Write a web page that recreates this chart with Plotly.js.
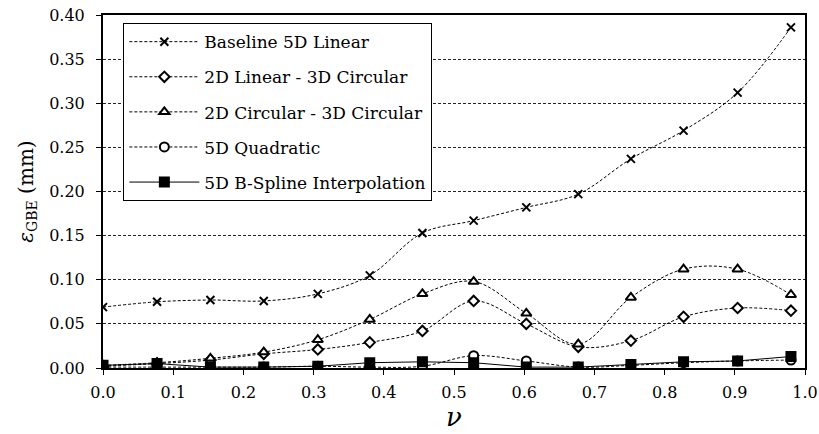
<!DOCTYPE html>
<html>
<head>
<meta charset="utf-8">
<script src="https://cdn.plot.ly/plotly-3.0.1.min.js"></script>
<style>html,body{margin:0;padding:0;background:#fff;}#chart{width:819px;height:434px;}</style>
</head>
<body>
<div id="chart"></div>
<script>
const nu = [0, 0.077, 0.153, 0.229, 0.306, 0.38, 0.455, 0.528, 0.603, 0.677, 0.752, 0.827, 0.904, 0.98];
const baseline5DLinear = [0.069, 0.075, 0.077, 0.076, 0.084, 0.105, 0.153, 0.167, 0.182, 0.197, 0.237, 0.269, 0.312, 0.386];
const linear2DCircular3D = [0.002, 0.005, 0.009, 0.016, 0.021, 0.029, 0.042, 0.076, 0.050, 0.024, 0.031, 0.058, 0.068, 0.065];
const circular2DCircular3D = [0.003, 0.006, 0.011, 0.018, 0.032, 0.055, 0.084, 0.098, 0.062, 0.027, 0.080, 0.112, 0.112, 0.083];
const quadratic5D = [0.001, 0.001, 0.001, 0.001, 0.002, 0.001, 0.002, 0.014, 0.008, 0.001, 0.003, 0.006, 0.008, 0.009];
const bspline5D = [0.003, 0.005, 0.001, 0.001, 0.002, 0.006, 0.007, 0.006, 0.001, 0.001, 0.004, 0.007, 0.008, 0.013];

const names = ['Baseline 5D Linear', '2D Linear - 3D Circular', '2D Circular - 3D Circular', '5D Quadratic', '5D B-Spline Interpolation'];
const series = [baseline5DLinear, linear2DCircular3D, circular2DCircular3D, quadratic5D, bspline5D];
const symbols = ['x-thin-open', 'diamond', 'triangle-up', 'circle', 'square'];
const sizes = [8, 8, 9, 9, 9];
const fills = ['#000', '#fff', '#fff', '#fff', '#000'];
const dashes = ['3px,2px', '3px,2px', '3px,2px', '3px,2px', 'solid'];

const traces = series.map((ys, i) => ({
  x: nu, y: ys, name: names[i], type: 'scatter', mode: 'lines+markers',
  legendgroup: 'g' + i,
  line: {color: '#000', width: 1, dash: dashes[i], shape: i === 4 ? 'linear' : 'spline', smoothing: 1},
  marker: {symbol: symbols[i], size: sizes[i], color: fills[i], line: {color: '#000', width: 2}}
}));

const layout = {
  width: 819, height: 434,
  margin: {l: 103, r: 14, t: 15, b: 66},
  paper_bgcolor: '#fff', plot_bgcolor: '#fff',
  font: {family: 'DejaVu Serif, serif', size: 16, color: '#000'},
  showlegend: true,
  legend: {x: 0.029, y: 0.977, xanchor: 'left', yanchor: 'top', bgcolor: '#fff', bordercolor: '#000', borderwidth: 1,
    font: {family: 'DejaVu Serif, serif', size: 17}, traceorder: 'grouped', tracegroupgap: 10, itemwidth: 70},
  xaxis: {range: [0, 1], dtick: 0.1, tick0: 0, tickformat: '.1f', showgrid: false, zeroline: false,
    showline: true, linecolor: '#000', linewidth: 2, mirror: true, ticks: 'outside', ticklen: 5, tickcolor: '#000',
    ticklabelstandoff: 4,
    title: {text: '<i>ν</i>', font: {size: 26}, standoff: 6}},
  yaxis: {range: [0, 0.4], dtick: 0.05, tick0: 0, tickformat: '.2f', showgrid: true, gridcolor: '#222', gridwidth: 1, griddash: '3px,2px',
    zeroline: false, showline: true, linecolor: '#000', linewidth: 2, mirror: true, ticks: 'outside', ticklen: 5, tickcolor: '#000',
    ticklabelstandoff: 8,
    title: {text: '<i>ε</i><sub>GBE</sub> (mm)', font: {size: 20}, standoff: 10}}
};

Plotly.newPlot('chart', traces, layout, {displayModeBar: false, staticPlot: true});
</script>
</body>
</html>
